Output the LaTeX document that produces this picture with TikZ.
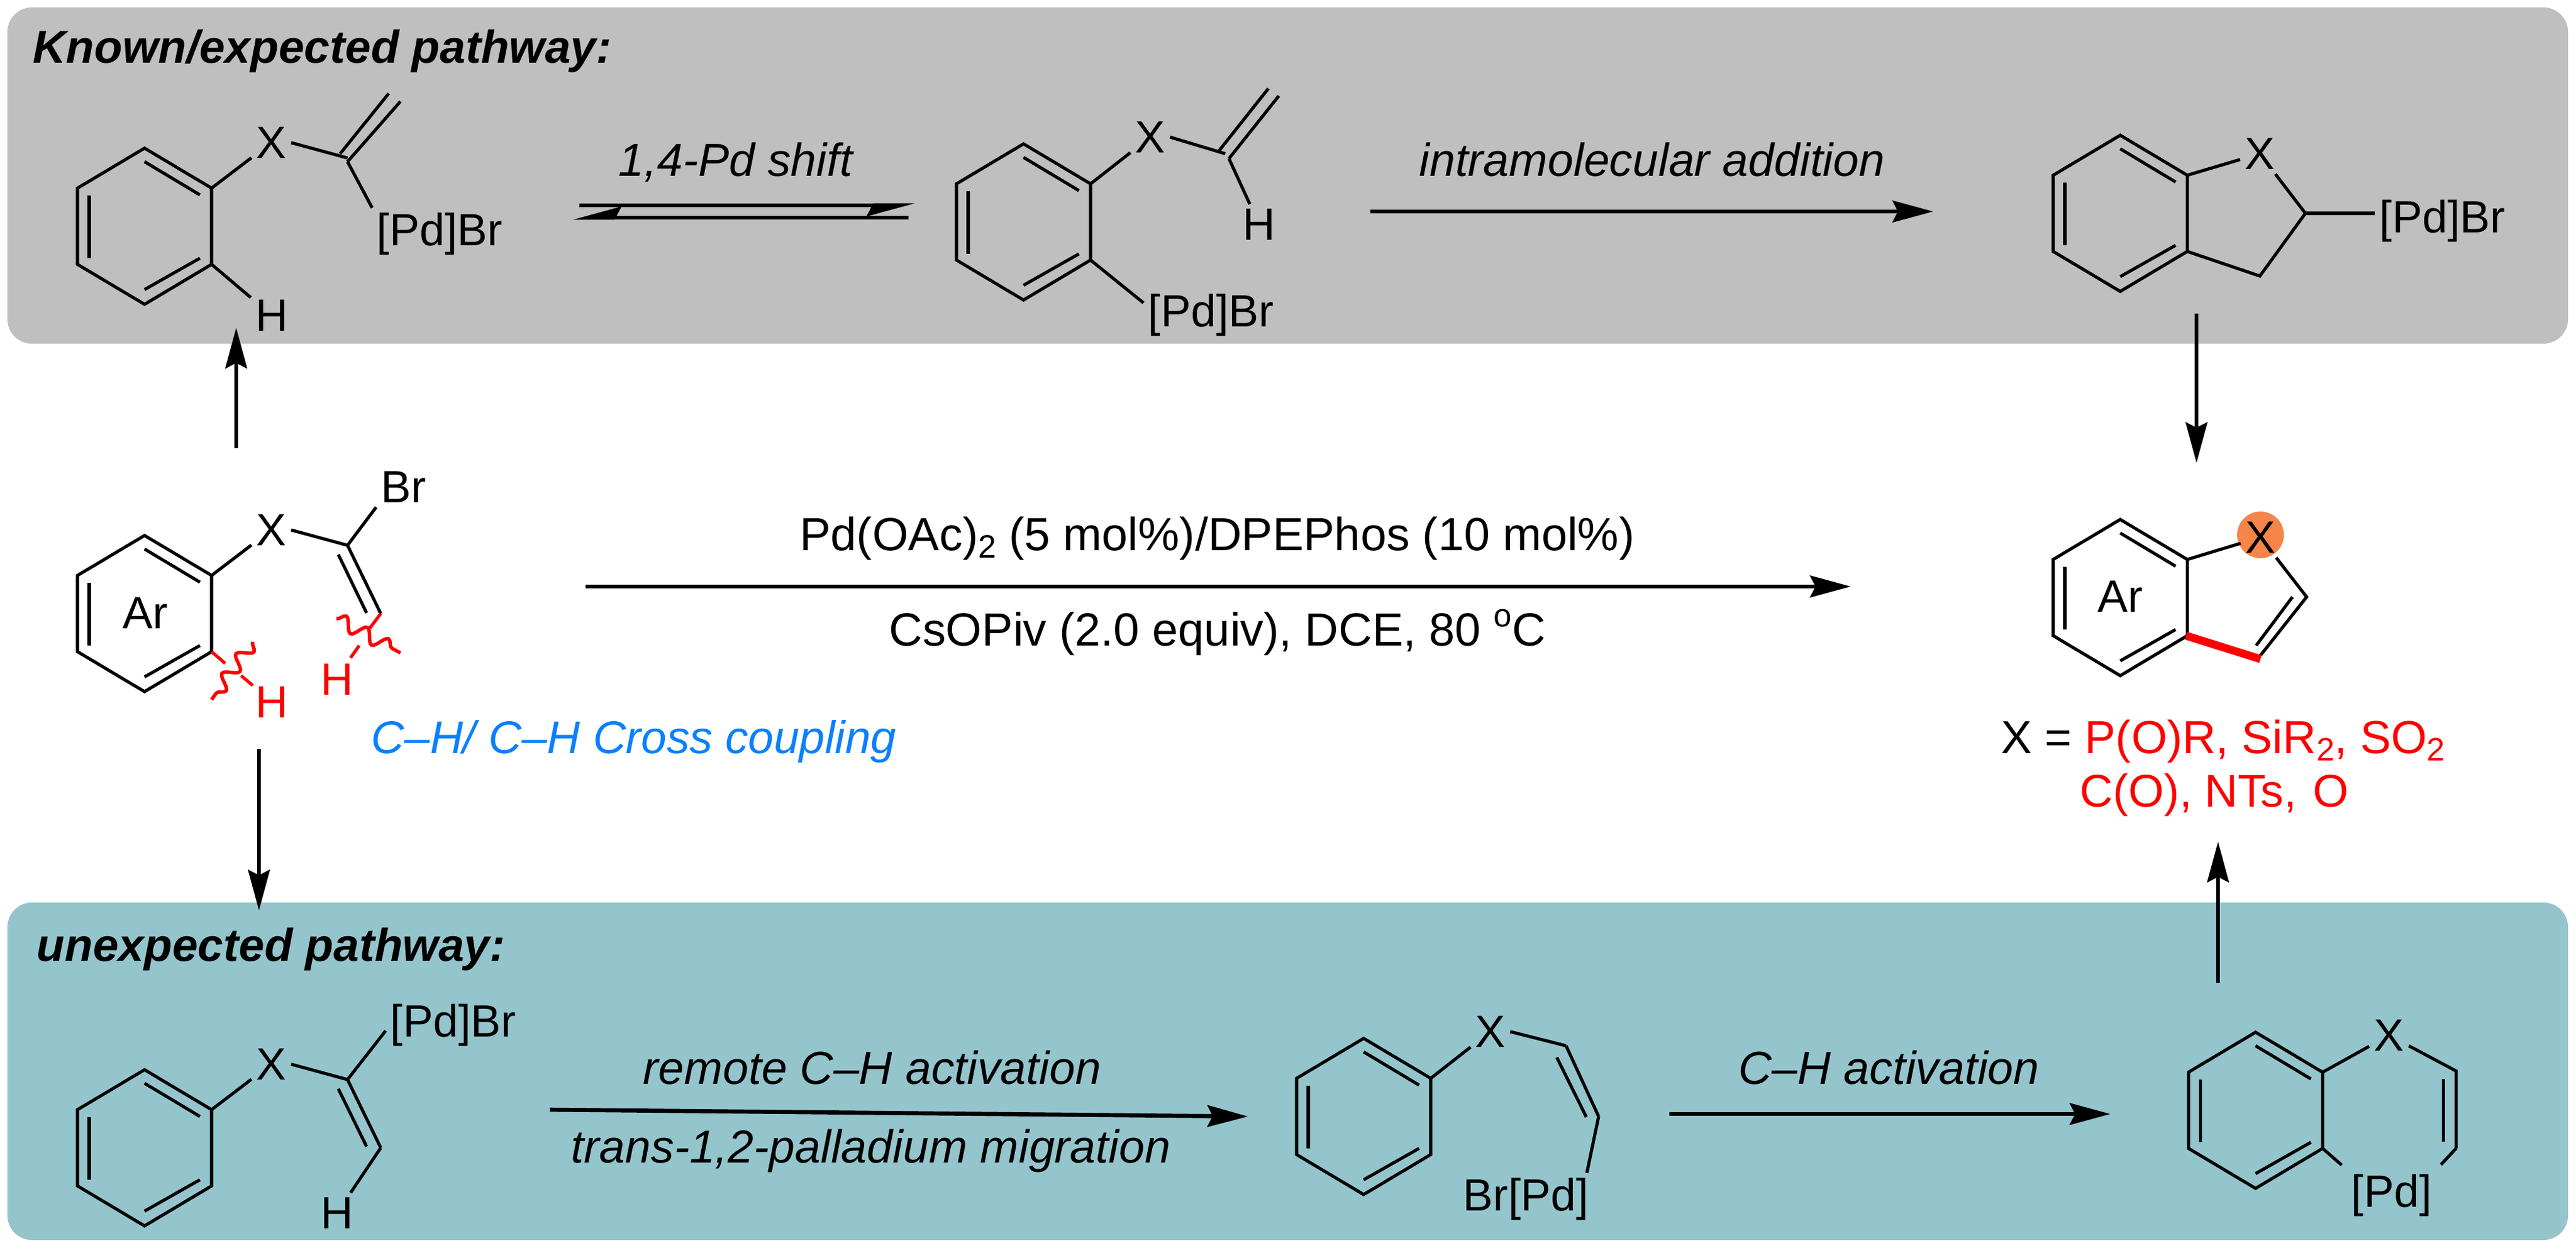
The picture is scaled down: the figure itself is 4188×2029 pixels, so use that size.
\documentclass[tikz,border=0pt]{standalone}
\usepackage{fontspec}
\setmainfont{Liberation Sans}
\usetikzlibrary{arrows.meta,decorations.pathmorphing}
\definecolor{panelgray}{HTML}{BFBFBF}
\definecolor{panelteal}{HTML}{95C5CC}
\definecolor{xorange}{HTML}{F58549}
\definecolor{cpblue}{HTML}{0A80FF}
\newcommand{\subtwo}{\raisebox{-3.6pt}{\fontsize{15}{15}\selectfont 2}}
\newcommand{\supo}{\raisebox{8.8pt}{\fontsize{15}{15}\selectfont o}}
\newcommand{\benzring}[3]{%
  \coordinate (#1tp) at (#2,#3-127);
  \coordinate (#1ur) at (#2+109,#3-62);
  \coordinate (#1lr) at (#2+109,#3+62);
  \coordinate (#1bt) at (#2,#3+127);
  \coordinate (#1ll) at (#2-109,#3+62);
  \coordinate (#1ul) at (#2-109,#3-62);
  \draw [bond] (#1tp) -- (#1ur) -- (#1lr) -- (#1bt) -- (#1ll) -- (#1ul) -- cycle;
  \draw [bond] (#2,#3-105) -- (#2+90,#3-51);
  \draw [bond] (#2-90,#3-50) -- (#2-90,#3+52);
  \draw [bond] (#2+90,#3+52) -- (#2,#3+103);
}
\begin{document}
\begin{tikzpicture}[x=0.01cm,y=-0.01cm]
        \tikzstyle{every node}+=[inner sep=2pt,font=\fontsize{20.9}{25}\selectfont]
        \tikzstyle{bond}=[line width=1.45pt]
        \tikzstyle{rxn}=[line width=1.9pt,-{Stealth[length=18.8pt,width=10pt,inset=2.5pt]}]
        \tikzstyle{eqm}=[line width=1.9pt,-{Stealth[harpoon,swap,length=18.8pt,width=10pt,inset=2.5pt]}]
        \tikzstyle{cond}=[anchor=base,font=\fontsize{21.4}{25}\selectfont\itshape]
        \tikzstyle{plain}=[anchor=base,font=\fontsize{21.5}{25}\selectfont]
        \tikzstyle{head}=[anchor=base west,font=\fontsize{21.3}{25}\selectfont\bfseries\itshape]
        \tikzstyle{wavy}=[red,line width=1.6pt,decorate,decoration={snake,segment length=0.39cm,amplitude=0.11cm}]
        \useasboundingbox (0,0) rectangle (4188,2029);
        \fill [panelgray,rounded corners=0.4cm] (12,12) rectangle (4175,559);
        \fill [panelteal,rounded corners=0.4cm] (12,1468) rectangle (4175,2017);
        \node [head] (knownhead) at (46,102) {Known/expected pathway:};
        \node [head] (unexphead) at (52,1563) {unexpected pathway:};
        % top row
        \benzring{a}{235}{368}
        \node (xa) at (441,232) {X};
        \node (ha) at (442,513) {H};
        \node [anchor=base west] (pda) at (605,399) {[Pd]Br};
        \coordinate (ca) at (565,257);
        \draw [bond] (aur) -- (xa);
        \draw [bond] (xa.east) -- (ca);
        \draw [bond] (565,263) -- (651,165);
        \draw [bond] (553,250) -- (632,152);
        \draw [bond] (565,263) -- (pda.north west);
        \draw [bond] (alr) -- (ha);
        \coordinate (eqrs) at (942,334);
        \coordinate (eqre) at (1488,334);
        \coordinate (eqls) at (1477,354);
        \coordinate (eqle) at (931,354);
        \draw [eqm] (eqrs) -- (eqre);
        \draw [eqm] (eqls) -- (eqle);
        \node [cond] (shiftlab) at (1196,286) {1,4-Pd shift};
        \benzring{b}{1664}{361}
        \node (xb) at (1870,223) {X};
        \node (hb) at (2047,365) {H};
        \node [anchor=base west] (pdb) at (1859,531) {[Pd]Br};
        \coordinate (cb) at (1992,250);
        \draw [bond] (bur) -- (xb);
        \draw [bond] (xb.east) -- (cb);
        \draw [bond] (1998,258) -- (2079,156);
        \draw [bond] (1982,245) -- (2062,144);
        \draw [bond] (1998,258) -- (hb);
        \draw [bond] (blr) -- (pdb.170);
        \coordinate (adds) at (2228,344);
        \coordinate (adde) at (3143,344);
        \draw [rxn] (adds) -- (adde);
        \node [cond] (addlab) at (2686,286) {intramolecular addition};
        \benzring{c}{3447}{347}
        \node (xc) at (3674,250) {X};
        \node [anchor=base west] (pdc) at (3861,378) {[Pd]Br};
        \coordinate (cc) at (3748,347);
        \coordinate (cd) at (3674,449);
        \draw [bond] (cur) -- (xc);
        \draw [bond] (xc) -- (cc) -- (cd) -- (clr);
        \draw [bond] (cc) -- (pdc.west |- cc);
        % arrows between the rows
        \coordinate (ups) at (384,729);
        \coordinate (upe) at (384,533);
        \draw [rxn] (ups) -- (upe);
        \coordinate (dns) at (421,1218);
        \coordinate (dne) at (421,1481);
        \draw [rxn] (dns) -- (dne);
        \coordinate (rds) at (3571,510);
        \coordinate (rde) at (3571,753);
        \draw [rxn] (rds) -- (rde);
        \coordinate (rus) at (3606,1599);
        \coordinate (rue) at (3606,1369);
        \draw [rxn] (rus) -- (rue);
        % middle row
        \benzring{d}{235}{998}
        \node (ard) at (236,997) {Ar};
        \node (xd) at (441,862) {X};
        \node (brd) at (656,792) {Br};
        \node [red] (hd) at (442,1142) {H};
        \node [red] (he) at (548,1105) {H};
        \coordinate (cs) at (565,887);
        \coordinate (ct) at (619,998);
        \draw [bond] (dur) -- (xd);
        \draw [bond] (xd.east) -- (cs);
        \draw [bond] (cs) -- (brd.south west);
        \draw [bond] (cs) -- (ct);
        \draw [bond] (550,902) -- (596,997);
        \draw [bond,red] (ct) -- (601,1022);
        \draw [bond,red] (584,1050) -- (570,1070);
        \draw [bond,red] (dlr) -- (366,1079);
        \draw [bond,red] (392,1099) -- (411,1115);
        \draw [wavy] (547,1006) -- (651,1062);
        \draw [wavy] (411,1044) -- (344,1138);
        \node [anchor=base west,cpblue,font=\fontsize{21.2}{25}\selectfont\itshape] (cplab) at (596,1225) {C--H/ C--H Cross coupling};
        \coordinate (mains) at (952,954);
        \coordinate (maine) at (3009,954);
        \draw [rxn] (mains) -- (maine);
        \node [plain] (catlab) at (1979,895) {Pd(OAc)\subtwo{} (5 mol\%)/DPEPhos (10 mol\%)};
        \node [plain] (baselab) at (1979,1050) {CsOPiv (2.0 equiv), DCE, 80 \supo{}C};
        % product
        \fill [xorange] (3675,870) circle (38);
        \benzring{p}{3447}{972}
        \node (arp) at (3447,970) {Ar};
        \node (xp) at (3675,874) {X};
        \coordinate (pc) at (3750,971);
        \coordinate (pd) at (3675,1066);
        \draw [bond] (pur) -- (xp);
        \draw [bond] (xp) -- (pc) -- (pd);
        \draw [bond] (3727,971) -- (3668,1050);
        \draw [red,line width=3.7pt] (3554,1034) -- (3675,1072);
        \node [anchor=base west,font=\fontsize{21.4}{25}\selectfont] (xlist) at (3246,1225) {X = \textcolor{red}{P(O)R, SiR\subtwo{}, SO\subtwo{}}};
        \node [anchor=base west,red,font=\fontsize{21.2}{25}\selectfont] (xlistb) at (3374,1312) {C(O), NTs,\hspace{0.36em}O};
        % bottom row
        \benzring{f}{235}{1867}
        \node (xf) at (441,1731) {X};
        \node (hf) at (548,1973) {H};
        \node [anchor=base west] (pdf) at (627,1686) {[Pd]Br};
        \coordinate (cf) at (565,1756);
        \coordinate (cg) at (619,1867);
        \draw [bond] (fur) -- (xf);
        \draw [bond] (xf.east) -- (cf);
        \draw [bond] (cf) -- (pdf.185);
        \draw [bond] (cf) -- (cg);
        \draw [bond] (550,1771) -- (596,1865);
        \draw [bond] (cg) -- (hf);
        \coordinate (migs) at (894,1805);
        \coordinate (mige) at (2029,1816);
        \draw [rxn] (migs) -- (mige);
        \node [cond] (remlab) at (1418,1763) {remote C--H activation};
        \node [cond] (translab) at (1416,1891) {trans-1,2-palladium migration};
        \benzring{g}{2217}{1816}
        \node (xg) at (2423,1678) {X};
        \node [anchor=base west] (brg) at (2371,1969) {Br[Pd]};
        \coordinate (ch) at (2546,1701);
        \coordinate (ci) at (2599,1816);
        \draw [bond] (gur) -- (xg);
        \draw [bond] (xg.east) -- (ch);
        \draw [bond] (ch) -- (ci);
        \draw [bond] (2531,1720) -- (2579,1817);
        \draw [bond] (ci) -- (brg.23);
        \coordinate (chs) at (2714,1812);
        \coordinate (che) at (3431,1812);
        \draw [rxn] (chs) -- (che);
        \node [cond] (chlab) at (3071,1763) {C--H activation};
        \benzring{h}{3667}{1806}
        \node (xh) at (3884,1684) {X};
        \node [anchor=base west] (pdh) at (3815,1963) {[Pd]};
        \coordinate (cj) at (3993,1742);
        \coordinate (ck) at (3993,1868);
        \draw [bond] (hur) -- (xh);
        \draw [bond] (xh) -- (cj) -- (ck);
        \draw [bond] (3972,1755) -- (3972,1857);
        \draw [bond,shorten >=3pt] (ck) -- (pdh.north east);
        \draw [bond,shorten >=3pt] (hlr) -- (pdh.north west);
        \end{tikzpicture}
\end{document}
